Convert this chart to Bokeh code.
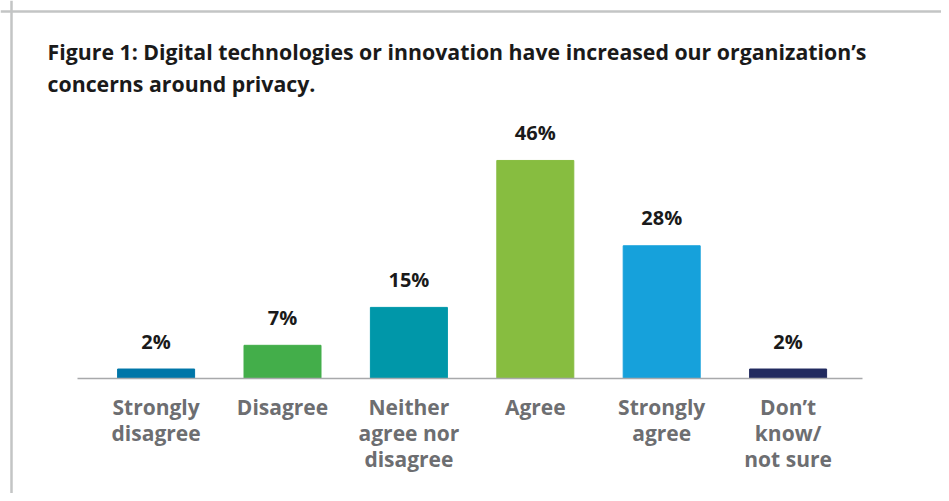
from bokeh.plotting import figure
from bokeh.models import Range1d, Span, Label, ColumnDataSource
from bokeh.core.properties import value
from bokeh.embed import file_html
from bokeh.resources import INLINE

# ---- data ----
categories = ["Strongly\ndisagree", "Disagree", "Neither\nagree nor\ndisagree",
              "Agree", "Strongly\nagree", "Don\u2019t\nknow/\nnot sure"]
percent = [2, 7, 15, 46, 28, 2]
colors = ["#0076a8", "#43ae4a", "#0097a9", "#87bd40", "#16a1db", "#222b5f"]
title_lines = ["Figure 1: Digital technologies or innovation have increased our organization\u2019s",
               "concerns around privacy."]

W, H = 941, 493
X0_PX, X_STEP = 155.6, 126.4     # px of first bar centre, px per category
Y0_PX, Y_STEP = 378.0, 4.74      # px of baseline, px per percent

def sx(px):
    return (px - X0_PX) / X_STEP

def sy(py):
    return (Y0_PX - py) / Y_STEP

p = figure(width=W, height=H, output_backend="svg", toolbar_location=None,
           x_range=Range1d(sx(0), sx(W)), y_range=Range1d(sy(H), sy(0)),
           min_border=0, min_border_left=0, min_border_right=0,
           min_border_top=0, min_border_bottom=0)
p.xaxis.visible = False
p.yaxis.visible = False
p.grid.visible = False
p.outline_line_color = None
p.background_fill_color = "white"
p.border_fill_color = "white"

idx = list(range(len(categories)))
src = ColumnDataSource(dict(x=idx, top=percent, color=colors,
                            cat=categories,
                            lab=[f"{v}%" for v in percent]))

# panel border (top and left edges visible)
p.add_layout(Span(location=sy(11), dimension="width", line_color="#c3c5c5", line_width=2.5))
p.add_layout(Span(location=sx(11), dimension="height", line_color="#c3c5c5", line_width=2.5))

# bars
p.vbar(x="x", top="top", bottom=0, width=77 / X_STEP, color="color", source=src)

# baseline
p.segment(x0=[sx(77)], y0=[0], x1=[sx(862)], y1=[0], line_color="#a8a9ab", line_width=1.6)

# value labels
p.text(x="x", y="top", text="lab", source=src, y_offset=-28,
       text_align="center", text_baseline="middle",
       text_font=value("Open Sans"), text_font_style="bold",
       text_font_size="20px", text_color="#1a1a1a")

# category labels
p.text(x="x", y=0, text="cat", source=src, y_offset=14,
       text_align="center", text_baseline="top", text_line_height=0.93,
       text_font=value("Open Sans"), text_font_style="bold",
       text_font_size="21px", text_color="#6d6e71")

# title
for i, line in enumerate(title_lines):
    p.add_layout(Label(x=sx(47), y=sy(50.5 + 32 * i), text=line,
                       text_align="left", text_baseline="middle",
                       text_font="Open Sans", text_font_style="bold",
                       text_font_size="21.3px", text_color="#1a1a1a"))

open("out.html", "w").write(file_html(p, INLINE))
